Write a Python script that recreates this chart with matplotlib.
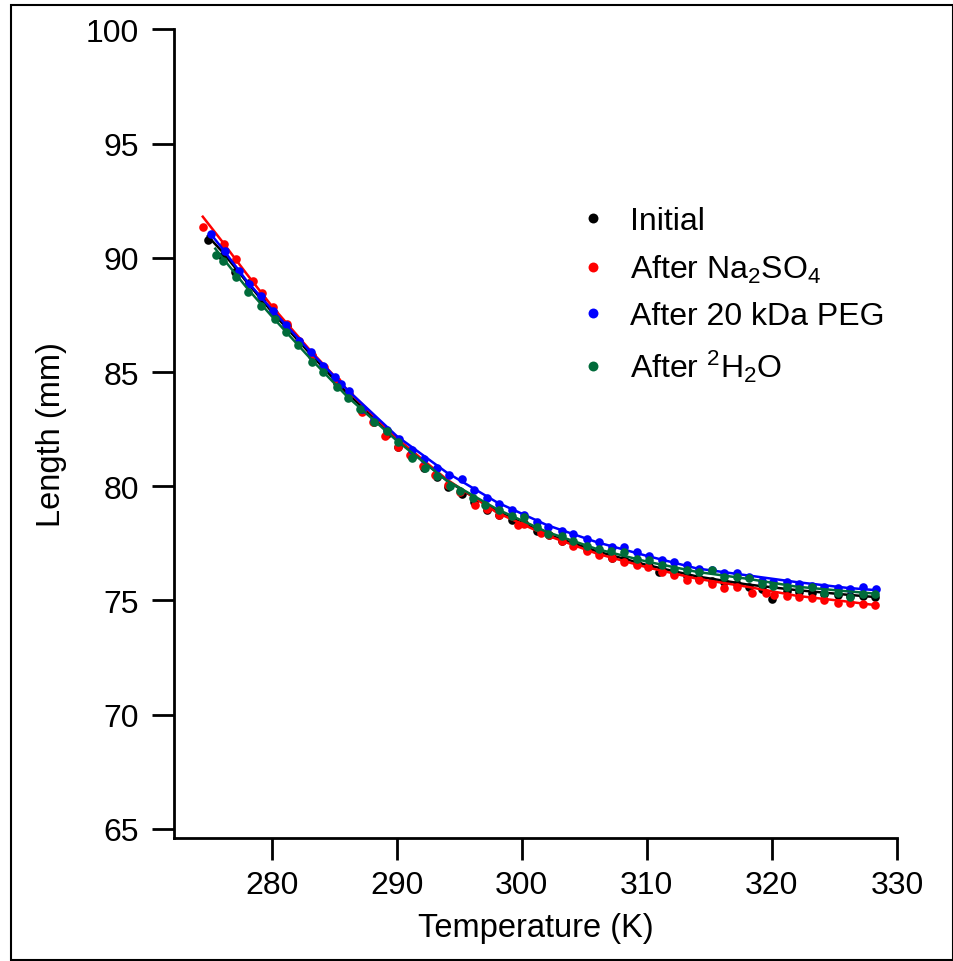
import matplotlib
matplotlib.use("Agg")
import matplotlib.pyplot as plt
from matplotlib.patches import Rectangle

plt.rcParams["font.family"] = ["Liberation Sans", "DejaVu Sans"]
plt.rcParams["mathtext.fontset"] = "custom"
plt.rcParams["mathtext.rm"] = "Liberation Sans"
plt.rcParams["mathtext.it"] = "Liberation Sans"

# ── measured points ──────────────────────────────────────────────────────────
init_T = [274.9, 276.0, 277.1, 278.2, 279.2, 280.2, 281.2, 282.2, 283.2, 284.2,
          285.2, 286.2, 287.2, 288.2, 289.2, 290.1, 291.2, 292.2, 293.2, 294.1,
          295.2, 296.2, 297.2, 298.2, 299.2, 300.2, 301.2, 302.2, 303.2, 304.2,
          305.2, 306.2, 307.2, 308.2, 309.2, 310.2, 311.0, 312.2, 313.2, 314.2,
          315.2, 316.2, 317.2, 318.2, 319.2, 320.0, 321.2, 322.2, 323.2, 324.2,
          325.3, 326.2, 327.3, 328.2]
init_L = [90.76, 90.1, 89.4, 88.9, 88.2, 87.6, 87.0, 86.3, 85.7, 85.1,
          84.5, 84.0, 83.3, 82.8, 82.3, 81.71, 81.3, 80.8, 80.4, 79.96,
          79.67, 79.3, 78.97, 78.72, 78.5, 78.4, 78.06, 77.85, 77.58, 77.45,
          77.25, 77.1, 76.85, 76.8, 76.65, 76.5, 76.24, 76.2, 76.05, 75.95,
          75.85, 75.8, 75.7, 75.6, 75.5, 75.07, 75.42, 75.38, 75.33, 75.28,
          75.25, 75.2, 75.18, 75.15]

na_T = [274.5, 276.2, 277.15, 278.55, 279.2, 280.15, 281.2, 282.2, 283.2, 284.2,
        285.2, 286.2, 287.2, 288.1, 289.1, 290.1, 291.1, 292.1, 293.1, 294.1,
        295.1, 296.3, 297.2, 298.2, 299.7, 300.2, 301.5, 302.2, 303.2, 304.1,
        305.2, 306.2, 307.2, 308.2, 309.2, 310.1, 311.2, 312.2, 313.2, 314.2,
        315.2, 316.2, 317.2, 318.4, 319.5, 320.2, 321.2, 322.2, 323.2, 324.2,
        325.3, 326.2, 327.3, 328.2]
na_L = [91.35, 90.61, 89.96, 88.97, 88.47, 87.84, 87.1, 86.35, 85.75, 85.2,
        84.6, 84.05, 83.24, 82.83, 82.22, 81.71, 81.35, 80.9, 80.5, 80.05,
        79.75, 79.19, 79.0, 78.75, 78.31, 78.35, 77.95, 77.85, 77.6, 77.4,
        77.15, 77.0, 76.85, 76.7, 76.55, 76.46, 76.25, 76.1, 75.9, 75.9,
        75.73, 75.54, 75.58, 75.32, 75.32, 75.25, 75.21, 75.14, 75.1, 75.0,
        74.9, 74.9, 74.85, 74.81]

peg_T = [275.15, 276.3, 277.4, 278.2, 279.15, 280.1, 281.15, 282.2, 283.15, 284.15,
         285.1, 285.55, 286.2, 287.2, 288.2, 289.2, 290.2, 291.2, 292.2, 293.2,
         294.2, 295.2, 296.2, 297.2, 298.2, 299.2, 300.2, 301.2, 302.1, 303.2,
         304.1, 305.2, 306.2, 307.2, 308.2, 309.2, 310.2, 311.2, 312.2, 313.2,
         314.2, 315.2, 316.2, 317.2, 318.2, 319.2, 320.1, 321.2, 322.2, 323.2,
         324.2, 325.3, 326.2, 327.3, 328.3]
peg_L = [91.05, 90.3, 89.44, 88.86, 88.32, 87.65, 87.07, 86.35, 85.87, 85.28,
         84.8, 84.48, 84.19, 83.4, 82.9, 82.45, 82.05, 81.6, 81.2, 80.8,
         80.5, 80.32, 79.85, 79.5, 79.2, 78.97, 78.72, 78.45, 78.21, 78.06,
         77.92, 77.7, 77.55, 77.36, 77.33, 77.11, 76.94, 76.75, 76.7, 76.57,
         76.38, 76.35, 76.21, 76.21, 76.02, 75.83, 75.8, 75.8, 75.73, 75.63,
         75.58, 75.54, 75.48, 75.58, 75.48]

d2o_T = [275.55, 276.1, 277.15, 278.15, 279.15, 280.3, 281.15, 282.15, 283.2, 284.15,
         285.2, 286.1, 287.1, 288.2, 289.2, 290.1, 291.2, 292.3, 293.2, 294.3,
         295.1, 296.1, 297.1, 298.2, 299.2, 300.2, 301.2, 302.1, 303.2, 304.1,
         305.2, 306.2, 307.1, 308.2, 309.2, 310.2, 311.2, 312.2, 313.2, 314.2,
         315.2, 316.2, 317.2, 318.2, 319.2, 320.1, 321.2, 322.2, 323.2, 324.2,
         325.3, 326.2, 327.3, 328.2]
d2o_L = [90.13, 89.84, 89.18, 88.5, 87.91, 87.33, 86.77, 86.2, 85.46, 85.0,
         84.34, 83.86, 83.36, 82.83, 82.42, 81.93, 81.23, 80.79, 80.44, 80.03,
         79.81, 79.47, 79.19, 78.97, 78.7, 78.65, 78.2, 77.92, 77.84, 77.62,
         77.4, 77.25, 77.15, 77.1, 76.82, 76.75, 76.53, 76.38, 76.31, 76.24,
         76.31, 76.02, 76.02, 75.98, 75.73, 75.63, 75.58, 75.51, 75.58, 75.32,
         75.32, 75.17, 75.29, 75.29]

# ── fitted curves ────────────────────────────────────────────────────────────
fit_init_T = [274.9, 276, 278, 280, 283, 286, 290, 294, 298, 302, 306, 310, 314, 318, 322, 326, 328.2]
fit_init_L = [90.95, 90.3, 88.95, 87.65, 85.85, 84.1, 82.05, 80.25, 78.9, 77.9, 77.15, 76.55, 76.05, 75.7, 75.45, 75.25, 75.15]

fit_na_T = [274.5, 276, 278, 280, 283, 286, 290, 294, 298, 302, 306, 310, 314, 318, 322, 326, 328.2]
fit_na_L = [91.8, 90.75, 89.3, 87.9, 86.0, 84.25, 82.1, 80.3, 78.85, 77.85, 77.05, 76.45, 75.95, 75.6, 75.2, 74.95, 74.8]

fit_peg_T = [275.2, 276, 278, 280, 283, 286, 290, 294, 298, 302, 306, 310, 314, 318, 322, 326, 328.3]
fit_peg_L = [91.0, 90.45, 89.0, 87.75, 85.95, 84.25, 82.2, 80.6, 79.3, 78.3, 77.55, 76.95, 76.4, 76.1, 75.8, 75.55, 75.45]

fit_d2o_T = [275.5, 276, 278, 280, 283, 286, 290, 294, 298, 302, 306, 310, 314, 318, 322, 326, 328.2]
fit_d2o_L = [90.4, 90.05, 88.7, 87.45, 85.65, 83.95, 82.0, 80.25, 79.0, 78.0, 77.25, 76.7, 76.25, 75.95, 75.6, 75.4, 75.3]

labels = ["Initial", "After Na$_2$SO$_4$", "After 20 kDa PEG", "After $^2$H$_2$O"]
colors = ["#000000", "#ff0000", "#0000ff", "#006b3a"]

x_ticks = [280, 290, 300, 310, 320, 330]
y_ticks = [65, 70, 75, 80, 85, 90, 95, 100]


fig = plt.figure(figsize=(9.54, 9.62), dpi=100)
ax = fig.add_axes([0.1824, 0.1279, 0.7579, 0.8405])

series = [
    (init_T, init_L, fit_init_T, fit_init_L),
    (na_T, na_L, fit_na_T, fit_na_L),
    (peg_T, peg_L, fit_peg_T, fit_peg_L),
    (d2o_T, d2o_L, fit_d2o_T, fit_d2o_L),
]
for (t, l, ft, fl), lab, c in zip(series, labels, colors):
    ax.plot(t, l, "o", color=c, markersize=6.2, markeredgewidth=0, label=lab)
    ax.plot(ft, fl, "-", color=c, linewidth=1.8)

ax.set_xlim(272.2, 330)
ax.set_ylim(64.6, 100)
ax.set_xticks(x_ticks)
ax.set_yticks(y_ticks)

for s in ["top", "right"]:
    ax.spines[s].set_visible(False)
for s in ["left", "bottom"]:
    ax.spines[s].set_linewidth(2.0)

ax.tick_params(axis="both", direction="out", length=16, width=2.0, labelsize=23)
ax.tick_params(axis="y", pad=9)
ax.tick_params(axis="x", pad=7)

ax.set_xlabel("Temperature (K)", fontsize=23.5, labelpad=9)
ax.set_ylabel("Length (mm)", fontsize=23.5, labelpad=14)

ax.legend(loc="upper left", bbox_to_anchor=(0.513, 0.817), frameon=False,
          fontsize=23, markerscale=1.15, handletextpad=0.55, labelspacing=0.52,
          handlelength=1.2)

# outer frame
fig.patches.append(Rectangle((0.0115, 0.001), 0.9875, 0.9927, transform=fig.transFigure,
                             fill=False, edgecolor="black", linewidth=1.5))

fig.savefig("out.png", dpi=100)
